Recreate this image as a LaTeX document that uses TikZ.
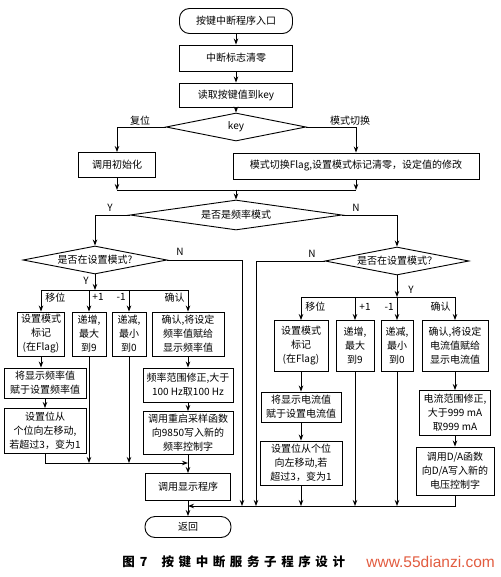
\documentclass[tikz,border=0pt]{standalone}
\usepackage{fontspec}
\setmainfont{Noto Sans CJK SC}
\newfontfamily\wmfont{Liberation Sans}
\usepackage{tikz}
\usetikzlibrary{shapes.geometric,arrows.meta}
\definecolor{wmark}{RGB}{226,92,64}
\newcommand{\gp}{\hspace{4.6pt}}

\begin{document}
\begin{tikzpicture}[x=1pt,y=-1pt,line width=0.9pt,
  every node/.style={font=\fontsize{10}{14}\selectfont,inner sep=1pt},
  proc/.style={draw,align=center,minimum width=#1},
  term/.style={draw,rounded corners=10pt,minimum width=#1},
  cond/.style={draw,diamond,aspect=5,inner sep=0pt},
  arr/.style={-{Stealth[length=6pt,width=4.5pt]}},
  lbl/.style={inner sep=0pt}]
  \useasboundingbox (0,0) rectangle (500,577);
  % entry and key decision
  \node[term=113,minimum height=25] (start) at (236,21) {按键中断程序入口};
  \node[proc=113,minimum height=26] (clr) at (236,58) {中断标志清零};
  \node[proc=113,minimum height=24] (rd) at (236,95) {读取按键值到key};
  \node[cond,minimum width=140,minimum height=28] (key) at (236,127) {key};
  \node[proc=77,minimum height=25] (init) at (117,165) {调用初始化};
  \node[proc=246,minimum height=26] (mode) at (356,166) {模式切换Flag,设置模式标记清零，设定值的修改};
  \coordinate (j1) at (236,190);
  \node[cond,minimum width=212,minimum height=30] (freq) at (236,215) {是否是频率模式};
  \node[cond,minimum width=144,minimum height=28] (setL) at (95,260) {是否在设置模式?};
  \node[cond,minimum width=144,minimum height=28] (setR) at (397,261) {是否在设置模式？};
  % frequency mode column
  \coordinate (yL) at (95,290);
  \node[proc=47,minimum height=44] (a1) at (41,334) {设置模式\\标记\\(在Flag)};
  \node[proc=34,minimum height=44] (a2) at (89,334) {递增,\\最大\\到9};
  \node[proc=34,minimum height=44] (a3) at (129,334) {递减,\\最小\\到0};
  \node[proc=72,minimum height=44] (a4) at (188,334) {确认,将设定\\频率值赋给\\显示频率值};
  \node[proc=82,minimum height=30] (a1b) at (45,383) {将显示频率值\\赋于设置频率值};
  \node[proc=82,minimum height=45] (a1c) at (45,431) {设置位从\\个位向左移动,\\若超过3，变为1};
  \node[proc=90,minimum height=34] (a5) at (188,385) {频率范围修正,大于\\100 Hz取100 Hz};
  \node[proc=90,minimum height=43] (a6) at (188,433) {调用重启采样函数\\向9850写入新的\\频率控制字};
  \node[proc=85,minimum height=27] (disp) at (188,487) {调用显示程序};
  \node[term=86,minimum height=21] (ret) at (188,527) {返回};
  \coordinate (mL) at (188,463);
  \coordinate (mrg) at (188,506);
  \coordinate (nL) at (242,506);
  \coordinate (nR) at (256,506);
  % current mode column
  \coordinate (yR) at (397,297);
  \node[proc=54,minimum height=51] (b1) at (301,346) {设置模式\\标记\\(在Flag)};
  \node[proc=38,minimum height=51] (b2) at (355,346) {递增,\\最大\\到9};
  \node[proc=32,minimum height=51] (b3) at (397,346) {递减,\\最小\\到0};
  \node[proc=66,minimum height=51] (b4) at (455,346) {确认,将设定\\电流值赋给\\显示电流值};
  \node[proc=80,minimum height=30] (b1b) at (301,407) {将显示电流值\\赋于设置电流值};
  \node[proc=82,minimum height=44] (b1c) at (301,463) {设置位从个位\\向左移动,若\\超过3，变为1};
  \node[proc=71,minimum height=45] (b5) at (455,413) {电流范围修正,\\大于999 mA\\取999 mA};
  \node[proc=78,minimum height=48] (b6) at (455,471) {调用D/A函数\\向D/A写入新的\\电压控制字};
  % connectors
  \draw[arr] (start) -- (clr);
  \draw[arr] (clr) -- (rd);
  \draw[arr] (rd) -- (key);
  \draw[arr] (key.west) -| (init.north);
  \draw[arr] (key.east) -| (mode.north);
  \draw[arr] (init.south) -- (init.south |- j1);
  \draw[arr] (mode.south) -- (mode.south |- j1);
  \draw (init.south |- j1) -- (mode.south |- j1);
  \draw[arr] (j1) -- (freq.north);
  \draw[arr] (freq.west) -| (setL.north);
  \draw[arr] (freq.east) -| (setR.north);
  \draw[arr] (setL.east) -| (nL);
  \draw[arr] (setR.west) -| (nR);
  \draw[arr] (setL.south) -- (yL);
  \draw (a1.north |- yL) -- (a4.north |- yL);
  \foreach \b in {a1,a2,a3,a4} \draw[arr] (\b.north |- yL) -- (\b.north);
  \draw[arr] (a1.south) -- (a1.south |- a1b.north);
  \draw[arr] (a1b) -- (a1c);
  \draw[arr] (a1c.south) |- (mL);
  \draw[arr] (a2.south) -- (a2.south |- mL);
  \draw[arr] (a3.south) -- (a3.south |- mL);
  \draw[arr] (a4) -- (a5);
  \draw[arr] (a5) -- (a6);
  \draw[arr] (a6) -- (disp);
  \draw[arr] (disp) -- (ret);
  \draw[arr] (setR.south) -- (yR);
  \draw (b1.north |- yR) -- (b4.north |- yR);
  \foreach \b in {b1,b2,b3,b4} \draw[arr] (\b.north |- yR) -- (\b.north);
  \draw[arr] (b1) -- (b1b);
  \draw[arr] (b1b) -- (b1c);
  \draw[arr] (b1c.south) -- (b1c.south |- mrg);
  \draw[arr] (b2.south) -- (b2.south |- mrg);
  \draw[arr] (b3.south) -- (b3.south |- mrg);
  \draw[arr] (b4) -- (b5);
  \draw[arr] (b5) -- (b6);
  \draw[arr] (b6.south) |- (mrg);
  % branch labels
  \node[lbl] (lrst) at (140,121) {复位};
  \node[lbl] (lsw) at (350,121) {模式切换};
  \node[lbl] (ly1) at (110,208) {Y};
  \node[lbl] (ln1) at (356,208) {N};
  \node[lbl] (ln2) at (180,252) {N};
  \node[lbl] (ly2) at (86,281) {Y};
  \node[lbl] (ln3) at (312,254) {N};
  \node[lbl] (ly3) at (411,290) {Y};
  \node[lbl,anchor=west] (la1) at (45,298) {移位};
  \node[lbl,anchor=west] (la2) at (92,297) {+1};
  \node[lbl,anchor=east] (la3) at (126,297) {-1};
  \node[lbl,anchor=east] (la4) at (185,298) {确认};
  \node[lbl,anchor=west] (lb1) at (305,307) {移位};
  \node[lbl,anchor=west] (lb2) at (359,307) {+1};
  \node[lbl,anchor=east] (lb3) at (394,307) {-1};
  \node[lbl,anchor=east] (lb4) at (451,307) {确认};
  % caption
  \node[lbl,anchor=west,font=\fontsize{12.5}{14}\selectfont\bfseries] (cap) at (122,562)
    {图\hspace{5pt}7\hspace{14pt}按\gp 键\gp 中\gp 断\gp 服\gp 务\gp 子\gp 程\gp 序\gp 设\gp 计};
  \node[lbl,anchor=west,font=\fontsize{15.5}{16}\wmfont,text=wmark] (wm) at (366,562) {www.55dianzi.com};
\end{tikzpicture}
\end{document}
